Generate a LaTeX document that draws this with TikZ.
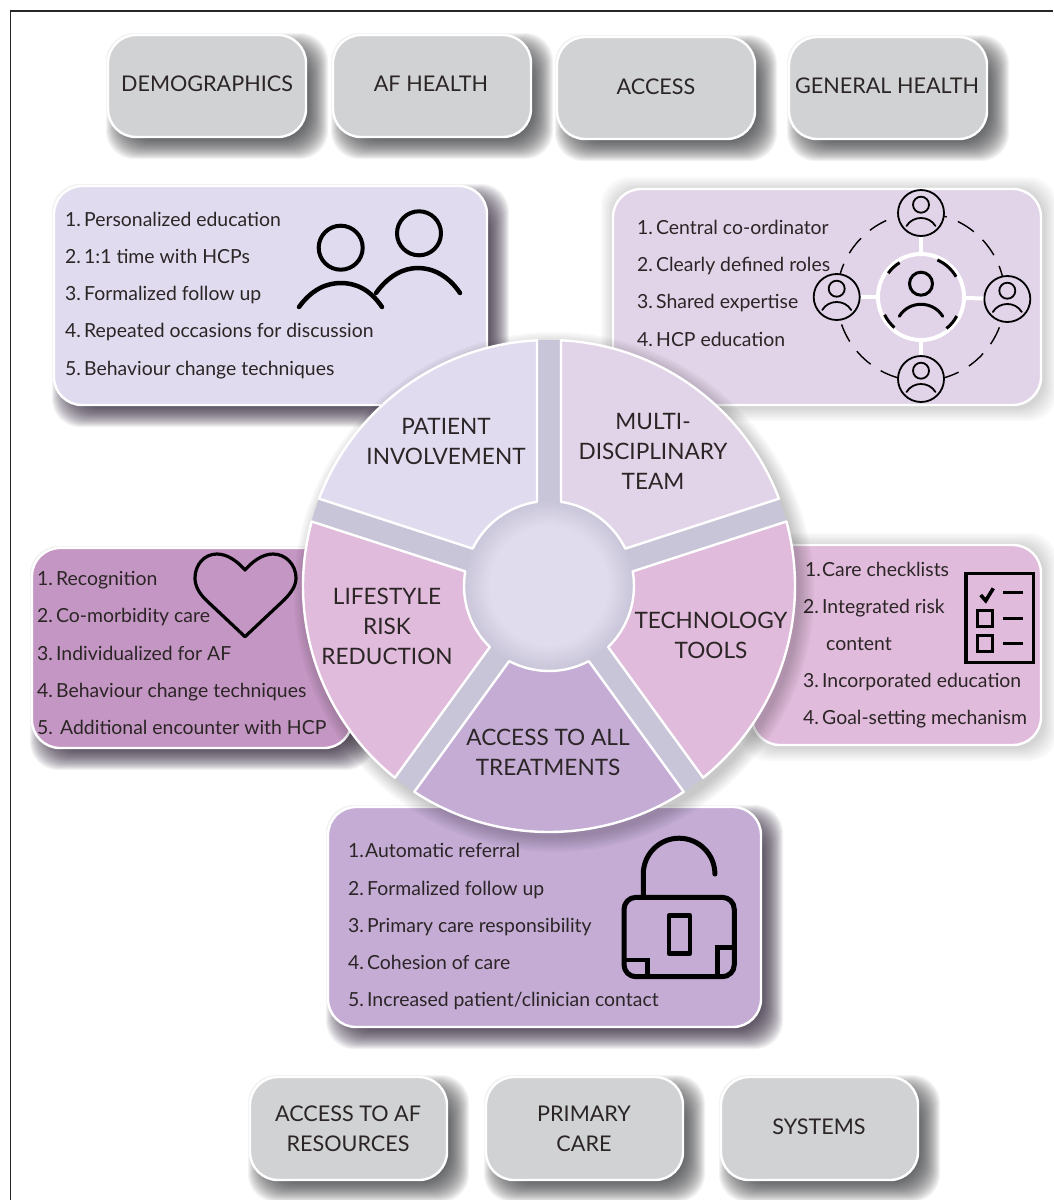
\documentclass[tikz,border=0pt]{standalone}
\usepackage{fontspec}
\setmainfont{Lato}
\usetikzlibrary{calc}
\definecolor{txt}{HTML}{2B2526}
\definecolor{greybox}{HTML}{D1D2D4}
\definecolor{patientc}{HTML}{E0DBEE}
\definecolor{teamc}{HTML}{E1D3E8}
\definecolor{lifec}{HTML}{E0BBDB}
\definecolor{lifebox}{HTML}{C496C3}
\definecolor{accessc}{HTML}{C4ACD5}
\definecolor{bandc}{HTML}{C9C5D8}
\definecolor{hubc}{HTML}{E0DCEE}
\definecolor{shgrey}{HTML}{3A3C3E}
\definecolor{shpurple}{HTML}{2E2238}
% blurred drop shadow of a rounded box
\newcommand{\dropsh}[5]{%
  \foreach \d in {12,11,...,-8}{%
    \fill[#5,opacity=0.06,rounded corners=28pt]
      ({#1+10-\d},{#2+10-\d}) rectangle ({#3+10+\d},{#4+10+\d});}}
% light all-round shadow of a rounded box
\newcommand{\softsh}[4]{%
  \foreach \d in {14,12,10,8,6,4,2}{%
    \fill[black,opacity=0.022,rounded corners=28pt]
      ({#1+2-\d},{#2+2-\d}) rectangle ({#3+2+\d},{#4+2+\d});}}
\newcommand{\num}[2][19pt]{\makebox[#1][l]{#2}}
\tikzset{
  x=1pt,y=-1pt,
  boxshape/.style={draw=white,line width=2.4pt,rounded corners=28pt},
  boxlabel/.style={font=\fontsize{21.6}{30}\selectfont,text=txt,align=center,inner sep=0pt},
  wheellabel/.style={font=\fontsize{22.6}{30}\selectfont,text=txt,align=center,inner sep=0pt},
  item/.style={font=\fontsize{19.4}{24}\selectfont,text=txt,anchor=mid west,inner sep=0pt,yshift=-5pt},
  seg/.style={draw=white,line width=2.4pt,line join=round},
  iconthick/.style={draw=black,line width=4.5pt,line cap=round,line join=round},
  person/.style={circle,draw=black,line width=1.8pt,fill=teamc,minimum size=46pt,inner sep=0pt},
  spoke/.style={draw=white,line width=4pt},
}
% ring segment: outer colour, from angle a to b (screen clockwise)
\newcommand{\segment}[3]{%
  \path[seg,fill=#1]
    ($(hub)+({#2+2.8}:246)$) arc[start angle={#2+2.8},end angle={#3-2.8},radius=246]
    -- ($(hub)+({#3-8.1}:85)$) arc[start angle={#3-8.1},end angle={#2+8.1},radius=85]
    -- cycle;}
% person glyph inside a circle
\newcommand{\smallperson}[1]{%
  \draw[black,line width=1.8pt] ($(#1)+(0,-8.3)$) circle[radius=8];
  \draw[black,line width=1.8pt,line cap=round] ($(#1)+(-14.5,13)$) .. controls ($(#1)+(-8,2.3)$) and ($(#1)+(8,2.3)$) .. ($(#1)+(14.5,13)$);}
\begin{document}
\begin{tikzpicture}
\useasboundingbox (0,0) rectangle (1053,1200);
\fill[white] (0,0) rectangle (1053,1200);
\draw[black!85,line width=1.5pt] (10.5,1200) -- (10.5,11) -- (1053,11);

% grey boxes
\dropsh{108}{35}{306}{137}{shgrey}
\dropsh{333}{35}{531}{137}{shgrey}
\dropsh{557}{37}{755}{139}{shgrey}
\dropsh{789}{37}{987}{139}{shgrey}
\dropsh{250}{1077}{447}{1180}{shgrey}
\dropsh{486}{1077}{683}{1180}{shgrey}
\dropsh{721}{1077}{918}{1180}{shgrey}
\path[boxshape,fill=greybox] (108,35) rectangle (306,137);
\path[boxshape,fill=greybox] (333,35) rectangle (531,137);
\path[boxshape,fill=greybox] (557,37) rectangle (755,139);
\path[boxshape,fill=greybox] (789,37) rectangle (987,139);
\path[boxshape,fill=greybox] (250,1077) rectangle (447,1180);
\path[boxshape,fill=greybox] (486,1077) rectangle (683,1180);
\path[boxshape,fill=greybox] (721,1077) rectangle (918,1180);
\node[boxlabel] (demo) at (207,84) {DEMOGRAPHICS};
\node[boxlabel] (afh) at (431,84) {AF HEALTH};
\node[boxlabel] (acc) at (656,87) {ACCESS};
\node[boxlabel] (gen) at (887,86) {GENERAL HEALTH};
\node[boxlabel] (res) at (348,1129) {ACCESS TO AF\\RESOURCES};
\node[boxlabel] (prim) at (584,1129) {PRIMARY\\CARE};
\node[boxlabel] (sys) at (819,1127) {SYSTEMS};

% patient box
\dropsh{54}{186}{487}{405}{shpurple}
\path[boxshape,fill=patientc] (54,186) rectangle (487,405);
\node[item] (p1) at (65,219) {\num{1.}Personalized education};
\node[item] (p2) at (65,256) {\num{2.}1:1 time with HCPs};
\node[item] (p3) at (65,293) {\num{3.}Formalized follow up};
\node[item] (p4) at (65,330) {\num{4.}Repeated occasions for discussion};
\node[item] (p5) at (65,368) {\num{5.}Behaviour change techniques};
\draw[iconthick,line width=4pt] (340.7,247.7) circle[radius=22];
\draw[iconthick,line width=4pt] (419,233.3) circle[radius=22];
\draw[iconthick] (299,307) .. controls (312,289) and (327,283) .. (341,283) .. controls (355,283) and (370,289) .. (382,307);
\draw[iconthick] (376,293) .. controls (389,275) and (404,268) .. (418,268) .. controls (432,268) and (448,275) .. (460,293);

% team box
\softsh{613}{189}{1041}{405}
\path[boxshape,fill=teamc] (613,189) rectangle (1041,405);
\node[item] (m1) at (637,227) {\num{1.}Central co-ordinator};
\node[item] (m2) at (637,264) {\num{2.}Clearly defined roles};
\node[item] (m3) at (637,301) {\num{3.}Shared expertise};
\node[item] (m4) at (637,339) {\num{4.}HCP education};
\coordinate (mc) at (921,297);
\draw[black,line width=1.4pt,dash pattern=on 19pt off 12pt] (mc) circle[radius=84];
\node[circle,draw=white,line width=4pt,fill=teamc,minimum size=86pt,inner sep=0pt] (centre) at (mc) {};
\foreach \a/\b in {122/144,30/66,206/229,309/332}{
  \draw[black,line width=3pt] ($(mc)+({-\a}:40.5)$) arc[start angle={-\a},end angle={-\b},radius=40.5];}
\node[person] (mt) at (921,213) {};
\node[person] (ml) at (836.7,297) {};
\node[person] (mr) at (1007.3,299) {};
\node[person] (mb) at (921,379) {};
\draw[spoke] (centre) -- (mt);
\draw[spoke] (centre) -- (ml);
\draw[spoke] (centre) -- (mr);
\draw[spoke] (centre) -- (mb);
\smallperson{mt}\smallperson{ml}\smallperson{mr}\smallperson{mb}
\draw[black,line width=3pt] ($(mc)+(0,-13.3)$) circle[radius=11.5];
\draw[black,line width=3pt,line cap=round] ($(mc)+(-21.7,19.3)$) .. controls ($(mc)+(-12,3.3)$) and ($(mc)+(12,3.3)$) .. ($(mc)+(21.7,19.3)$);

% lifestyle box
\dropsh{32}{548}{352}{748}{shpurple}
\path[boxshape,fill=lifebox] (32,548) rectangle (352,748);
\node[item] (l1) at (37,578) {\num{1.}Recognition};
\node[item] (l2) at (37,615) {\num{2.}Co-morbidity care};
\node[item] (l3) at (37,653) {\num{3.}Individualized for AF};
\node[item] (l4) at (37,690) {\num{4.}Behaviour change techniques};
\node[item] (l5) at (37,727) {\num[23pt]{5.}Additional encounter with HCP};
\draw[black,line width=3.2pt,line join=round]
  (245,570) .. controls (238,562) and (228,554) .. (217,554)
  .. controls (204,554) and (195,565) .. (195,578)
  .. controls (195,586) and (199,593) .. (206,600)
  -- (245,636.7) -- (284,600)
  .. controls (291,593) and (296,586) .. (296,578)
  .. controls (296,565) and (286,554) .. (273,554)
  .. controls (262,554) and (252,562) .. (245,570) -- cycle;

% technology box
\softsh{752}{545}{1041}{745}
\path[boxshape,fill=lifec] (752,545) rectangle (1041,745);
\node[item] (t1) at (805,569) {\num[17pt]{1.}Care checklists};
\node[item] (t2) at (803,606) {\num{2.}Integrated risk};
\node[item] (t2b) at (826,643) {content};
\node[item] (t3) at (803,680) {\num{3.}Incorporated education};
\node[item] (t4) at (803,717) {\num{4.}Goal-setting mechanism};
\draw[black,line width=3.4pt] (966,573.3) rectangle (1033.3,662.7);
\draw[black,line width=3.6pt] (980.7,595) -- (985.7,600.7) -- (993.3,588.3);
\foreach \yy in {592.3,618,643.3}{\draw[black,line width=3pt] (1003.3,\yy) -- (1022.7,\yy);}
\draw[black,line width=3pt] (977.3,610) rectangle (992.7,626);
\draw[black,line width=3pt] (977.3,635.7) rectangle (992.7,651.3);

% access box
\dropsh{328}{807}{761}{1027}{shpurple}
\path[boxshape,fill=accessc] (328,807) rectangle (761,1027);
\node[item] (a1) at (348,850) {\num[17pt]{1.}Automatic referral};
\node[item] (a2) at (348,888) {\num{2.}Formalized follow up};
\node[item] (a3) at (348,925) {\num{3.}Primary care responsibility};
\node[item] (a4) at (348,962) {\num{4.}Cohesion of care};
\node[item] (a5) at (348,999) {\num{5.}Increased patient/clinician contact};
\draw[iconthick,line width=5pt,rounded corners=12pt] (624,897.3) rectangle (734.3,976.7);
\draw[iconthick,line width=5pt] (643.3,897) -- (643.3,874) arc[start angle=180,end angle=360,radius=35.8];
\draw[black,line width=4.5pt,line join=round] (669,915.7) rectangle (690,953.3);
\draw[black,line width=4.5pt] (624,960) -- (647.7,960) -- (647.7,975);
\draw[black,line width=4.5pt] (717.3,976) -- (717.3,947.3) -- (734,947.3);

% wheel
\coordinate (hub) at (549,586);
\foreach \d in {14,12,10,8,6,4,2,0}{
  \fill[black,opacity=0.028] ($(hub)+(5,6)$) circle[radius={246+\d}];}
\fill[bandc] (hub) circle[radius=246];
\foreach \r [evaluate=\r as \p using {(86-\r)*100/26}] in {86,84,...,60}{
  \fill[hubc!\p!bandc] (hub) circle[radius=\r];}
\segment{patientc}{198}{270}
\segment{teamc}{270}{342}
\segment{lifec}{342}{414}
\segment{accessc}{54}{126}
\segment{lifec}{126}{198}
\node[wheellabel] (wp) at (446,441) {PATIENT\\INVOLVEMENT};
\node[wheellabel] (wm) at (653,451) {MULTI-\\DISCIPLINARY\\TEAM};
\node[wheellabel] (wl) at (387,626) {LIFESTYLE\\RISK\\REDUCTION};
\node[wheellabel] (wt) at (711,635) {TECHNOLOGY\\TOOLS};
\node[wheellabel] (wa) at (548,752) {ACCESS TO ALL\\TREATMENTS};
\end{tikzpicture}
\end{document}
